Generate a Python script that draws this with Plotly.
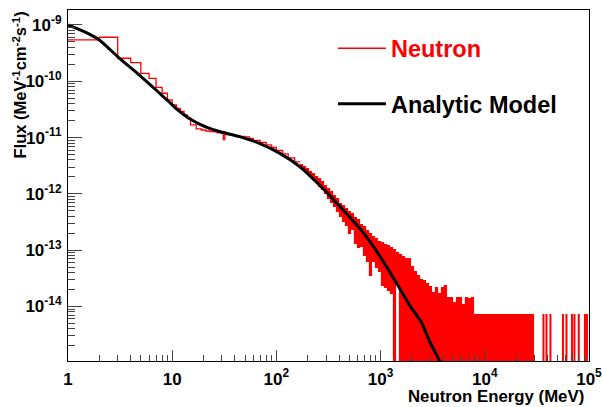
import plotly.graph_objects as go

# ---------------- data ----------------
# Analytic model curve (MeV, flux in MeV^-1 cm^-2 s^-1)
model_energy_mev = [1, 1.5, 2.0, 3.12, 4.85, 7.0, 9.42, 11.0, 12.83, 15.32, 18.3, 22.8, 28.4,
                    44.2, 68.8, 107, 167, 259, 403, 627, 782, 975, 1217, 1518, 1894, 2469,
                    2946, 3675, 3927]
model_flux = [1.0e-9, 7.3e-10, 5.4e-10, 2.56e-10, 1.29e-10, 7.0e-11, 4.24e-11, 3.22e-11,
              2.57e-11, 2.07e-11, 1.73e-11, 1.46e-11, 1.28e-11, 1.04e-11, 7.9e-12, 5.3e-12,
              3.07e-12, 1.44e-12, 6.1e-13, 2.48e-13, 1.46e-13, 8.05e-14, 4.19e-14, 2.13e-14,
              1.06e-14, 5.2e-15, 2.44e-15, 1.10e-15, 8.6e-16]

# Neutron histogram, low-energy part: bin edges (MeV) and log10(flux) per bin
hist_edges_mev = [1, 2, 3, 4, 5, 6, 7, 8, 9, 10, 11, 12, 13, 14, 15, 17, 19, 21, 23, 25, 27,
                  30, 31, 32, 33, 36, 40, 45, 50, 55, 60, 70, 80, 90, 100, 115, 130, 150, 170]
hist_log10_flux = [-9.266, -9.218, -9.591, -9.670, -9.858, -9.947, -10.107, -10.213, -10.332,
                   -10.421, -10.483, -10.536, -10.599, -10.661, -10.776, -10.847, -10.865,
                   -10.883, -10.892, -10.900, -10.918, -10.927, -11.034, -10.936, -10.945,
                   -10.954, -10.972, -10.980, -10.989, -11.016, -11.051, -11.087, -11.131,
                   -11.176, -11.229, -11.291, -11.362, -11.433]

# Neutron histogram, high-energy part (fine 1 MeV bins): per-column max / min of log10(flux)
# None in the min list = the column contains empty bins (drawn down off the axis)
col_energy_mev = [174.1, 186.1, 198.9, 212.5, 227.0, 242.6,
                  259, 277, 296, 316, 338, 361, 386, 412, 441, 471, 503, 537, 574, 614, 656,
                  701, 749, 800, 855, 913, 976, 1043, 1114, 1191, 1272,
                  1359, 1453, 1552, 1659, 1773, 1894, 2024, 2162, 2311, 2469, 2638, 2819,
                  3012, 3219, 3439, 3675, 3927, 4196, 4483, 4791, 5119, 5470, 5845, 6245,
                  6673, 7131, 7620,
                  8141, 8699, 9297, 9933, 10614, 11341, 12118, 12949, 13837, 14785, 15799,
                  16880, 18037, 19275, 20596, 22007, 23516, 25128, 26851, 28691]
col_max_log10_flux = [-11.469, -11.504, -11.540, -11.593, -11.629, -11.682,
                      -11.718, -11.771, -11.842, -11.895, -11.949, -12.020, -12.073, -12.162,
                      -12.197, -12.250, -12.304, -12.339, -12.410, -12.446, -12.535, -12.570,
                      -12.641, -12.694, -12.748, -12.783, -12.837, -12.854, -12.890, -12.908,
                      -12.943,
                      -12.979, -13.032, -13.068, -13.103, -13.139, -13.139, -13.281, -13.369,
                      -13.440, -13.512, -13.529, -13.583, -13.636, -13.742, -13.654, -13.760,
                      -13.654, -13.618, -13.831, -13.831, -13.920, -13.831, -13.831, -13.956,
                      -13.831, -13.849, -13.831,
                      -14.133, -14.133, -14.133, -14.133, -14.133, -14.133, -14.133, -14.133,
                      -14.133, -14.133, -14.133, -14.133, -14.133, -14.133, -14.133, -14.133,
                      -14.133, -14.133, -14.133, -14.133]
col_min_log10_flux = [-11.558, -11.593, -11.647, -11.700, -11.753, -11.806,
                      -11.877, -11.931, -12.002, -12.091, -12.162, -12.233, -12.321, -12.410,
                      -12.499, -12.570, -12.712, -12.641, -12.890, -12.961, -12.943, -13.103,
                      -13.210, -13.458, -13.210, -13.316, -13.387, -13.636, -13.671, -13.725,
                      -13.778,
                      None, -13.618, None, None, None, None, None, None, None, None, None,
                      None, None, None, None, None, None, None, None, None, None, None, None,
                      None, None, None, None,
                      None, None, None, None, None, None, None, None, None, None, None, None,
                      None, None, None, None, None, None, None, None]

# Isolated non-empty bins at the top end of the range
sparse_energy_mev = [36590, 39090, 42720, 56300, 60830, 68700, 72580, 79850, 91540, 95680]
sparse_log10_flux = [-14.133] * len(sparse_energy_mev)

x_tick_vals = [1, 10, 1e2, 1e3, 1e4, 1e5]
x_tick_text = ["1", "10", "10<sup>2</sup>", "10<sup>3</sup>", "10<sup>4</sup>", "10<sup>5</sup>"]
y_tick_vals = [1e-14, 1e-13, 1e-12, 1e-11, 1e-10, 1e-9]
y_tick_text = ["10<sup>-14</sup>", "10<sup>-13</sup>", "10<sup>-12</sup>",
               "10<sup>-11</sup>", "10<sup>-10</sup>", "10<sup>-9</sup>"]

EMPTY_BIN_DRAW = 1e-17  # below the visible range: empty bins run off the axis

# ---------------- figure ----------------
FONT = "Liberation Sans, Arial, Helvetica, sans-serif"
RED = "#ff0000"

fig = go.Figure()

# dense fine-binned region: vertical extent of bins in each column
cx, cy = [], []
for e, hi, lo in zip(col_energy_mev, col_max_log10_flux, col_min_log10_flux):
    cx += [e, e, None]
    cy += [EMPTY_BIN_DRAW if lo is None else 10 ** lo, 10 ** hi, None]
fig.add_trace(go.Scatter(x=cx, y=cy, mode="lines", line=dict(color=RED, width=3.2),
                         showlegend=False, hoverinfo="skip"))

sx, sy = [], []
for e, v in zip(sparse_energy_mev, sparse_log10_flux):
    sx += [e, e, None]
    sy += [EMPTY_BIN_DRAW, 10 ** v, None]
fig.add_trace(go.Scatter(x=sx, y=sy, mode="lines", line=dict(color=RED, width=2),
                         showlegend=False, hoverinfo="skip"))

# low-energy histogram steps
step_y = [10 ** v for v in hist_log10_flux] + [10 ** hist_log10_flux[-1]]
fig.add_trace(go.Scatter(x=hist_edges_mev, y=step_y, mode="lines", line_shape="hv",
                         line=dict(color=RED, width=1.3),
                         name="<span style='color:#ff0000'>Neutron</span>",
                         legendgroup="a"))

fig.add_trace(go.Scatter(x=model_energy_mev, y=model_flux, mode="lines",
                         line=dict(color="black", width=3, shape="spline", smoothing=0.5),
                         name="Analytic Model", legendgroup="b"))

axis_common = dict(type="log", showgrid=False, zeroline=False, showline=True,
                   linecolor="black", linewidth=1.2, mirror=True, ticks="inside",
                   tickcolor="#444", tickwidth=1.2, ticklabeloverflow="allow",
                   tickfont=dict(family=FONT, size=17, color="black", weight="bold"))

fig.update_xaxes(**axis_common, range=[0, 5.0005], tickvals=x_tick_vals, ticktext=x_tick_text,
                 ticklen=11, ticklabelstandoff=2,
                 minor=dict(ticks="inside", ticklen=6, dtick="D1", tickcolor="#444",
                            tickwidth=1.2, showgrid=False))
fig.update_yaxes(**axis_common, range=[-14.968, -8.734], tickvals=y_tick_vals,
                 ticktext=y_tick_text, ticklen=14, ticklabelstandoff=2,
                 minor=dict(ticks="inside", ticklen=7, dtick="D1", tickcolor="#444",
                            tickwidth=1.2, showgrid=False))

fig.add_annotation(text="Flux (MeV<sup>-1</sup>cm<sup>-2</sup>s<sup>-1</sup>)",
                   xref="paper", yref="paper", x=-0.094, y=1.0, xanchor="center",
                   yanchor="top", textangle=-90, showarrow=False,
                   font=dict(family=FONT, size=16.5, color="black", weight="bold"))
fig.add_annotation(text="Neutron Energy (MeV)", xref="paper", yref="paper",
                   x=0.995, y=-0.101, xanchor="right", yanchor="middle", showarrow=False,
                   font=dict(family=FONT, size=16.8, color="black", weight="bold"))

fig.update_layout(
    width=602, height=407,
    margin=dict(l=68, r=13, t=10, b=46, autoexpand=False),
    paper_bgcolor="white", plot_bgcolor="white",
    legend=dict(x=0.5085, y=0.953, xanchor="left", yanchor="top", itemwidth=48,
                bgcolor="rgba(0,0,0,0)", borderwidth=0, tracegroupgap=22,
                font=dict(family=FONT, size=23.5, color="black", weight="bold")),
)

fig.write_html("out.html", config={"displayModeBar": False},
               post_script="document.body.style.margin='0px';")
